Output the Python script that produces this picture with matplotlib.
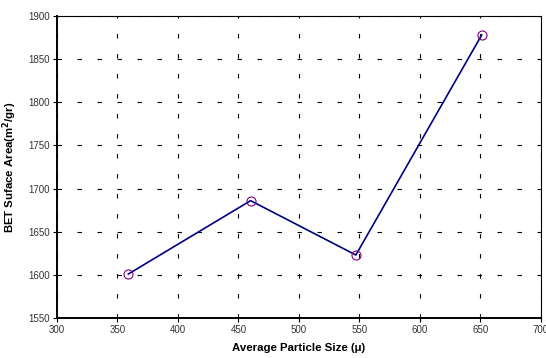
import matplotlib
matplotlib.use('Agg')
import matplotlib.pyplot as plt

plt.rcParams['font.family'] = ['Liberation Sans', 'DejaVu Sans']
plt.rcParams['lines.scale_dashes'] = False

# data
particle_size = [359, 460, 547, 651]
bet_area = [1601, 1686, 1623, 1878]

x_ticks = [300, 350, 400, 450, 500, 550, 600, 650, 700]
y_ticks = [1550, 1600, 1650, 1700, 1750, 1800, 1850, 1900]

fig = plt.figure(figsize=(5.46, 3.58), dpi=100)
ax = fig.add_axes([0.1044, 0.1117, 0.8864, 0.8436])

ax.plot(particle_size, bet_area, color='#000080', lw=1.2, zorder=3)
ax.plot(particle_size, bet_area, ls='none', marker='o', ms=6.5,
        mfc='none', mec='#800080', mew=0.8, zorder=4)

ax.set_xlim(300, 700)
ax.set_ylim(1550, 1900)
ax.set_xticks(x_ticks)
ax.set_yticks(y_ticks)
ax.tick_params(labelsize=7, labelcolor='#333333', length=3, width=0.8,
               direction='out', pad=2)

ax.grid(True, color='black', lw=0.8, linestyle=(0, (3.2, 11.2)))

for side in ['left', 'bottom']:
    ax.spines[side].set_linewidth(1.4)
for side in ['top', 'right']:
    ax.spines[side].set_linewidth(0.8)

ax.set_xlabel('Average Particle Size (\u03bc)', fontsize=8.2, fontweight='bold', labelpad=6)
ax.set_ylabel('BET Suface Area(m$^\\mathbf{2}$/gr)', fontsize=8.2, fontweight='bold', labelpad=7)

fig.savefig('out.png', dpi=100)
